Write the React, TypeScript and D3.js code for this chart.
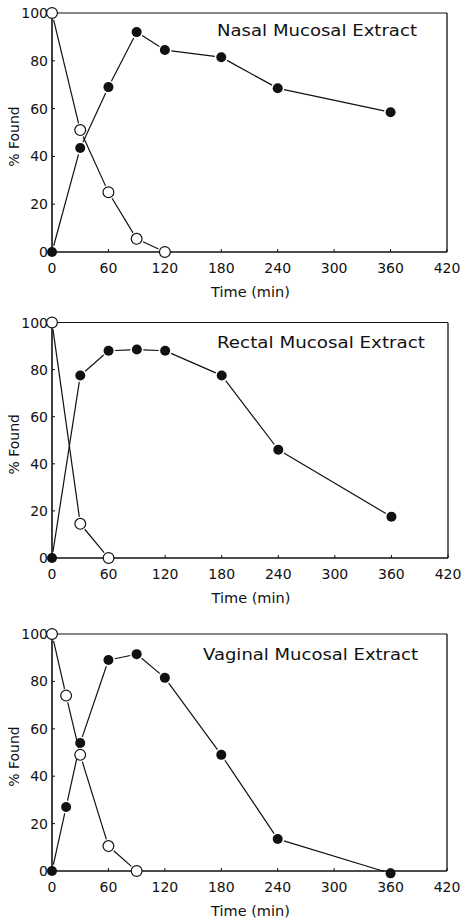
import React from "react";
import * as d3 from "d3";

// x ticks / y ticks shared by all three panels
const xTicks = [0, 60, 120, 180, 240, 300, 360, 420];
const yTicks = [0, 20, 40, 60, 80, 100];

const panelTitles = [
  "Nasal Mucosal Extract",
  "Rectal Mucosal Extract",
  "Vaginal Mucosal Extract",
];

// Nasal
const nasalFilledT = [0, 30, 60, 90, 120, 180, 240, 360];
const nasalFilledV = [0, 43.5, 69, 92, 84.5, 81.5, 68.5, 58.5];
const nasalOpenT = [0, 30, 60, 90, 120];
const nasalOpenV = [100, 51, 25, 5.5, 0];

// Rectal
const rectalFilledT = [0, 30, 60, 90, 120, 180, 240, 360];
const rectalFilledV = [0, 77.5, 88, 88.5, 88, 77.5, 46, 17.5];
const rectalOpenT = [0, 30, 60];
const rectalOpenV = [100, 14.5, 0];

// Vaginal
const vaginalFilledT = [0, 15, 30, 60, 90, 120, 180, 240, 360];
const vaginalFilledV = [0, 27, 54, 89, 91.5, 81.5, 49, 13.5, -1];
const vaginalOpenT = [0, 15, 30, 60, 90];
const vaginalOpenV = [100, 74, 49, 10.5, 0];

type Pt = [number, number];
const zip = (t: number[], v: number[]): Pt[] => t.map((d, i) => [d, v[i]]);

const panels = [
  { title: panelTitles[0], filled: zip(nasalFilledT, nasalFilledV), open: zip(nasalOpenT, nasalOpenV),
    box: { l: 52, r: 447, t: 13, b: 252 }, titleX: 217, titleW: 200, titleDy: 23 },
  { title: panelTitles[1], filled: zip(rectalFilledT, rectalFilledV), open: zip(rectalOpenT, rectalOpenV),
    box: { l: 52, r: 448, t: 322.5, b: 558 }, titleX: 217, titleW: 208, titleDy: 25 },
  { title: panelTitles[2], filled: zip(vaginalFilledT, vaginalFilledV), open: zip(vaginalOpenT, vaginalOpenV),
    box: { l: 52, r: 447, t: 634, b: 871 }, titleX: 203, titleW: 215, titleDy: 26 },
];

const FONT = "'DejaVu Sans', sans-serif";

function Segments({ pts, x, y, gap }: { pts: Pt[]; x: d3.ScaleLinear<number, number>; y: d3.ScaleLinear<number, number>; gap: number }) {
  const segs = [];
  for (let i = 0; i < pts.length - 1; i++) {
    const x1 = x(pts[i][0]), y1 = y(pts[i][1]);
    const x2 = x(pts[i + 1][0]), y2 = y(pts[i + 1][1]);
    const len = Math.hypot(x2 - x1, y2 - y1);
    if (len <= gap * 2) continue;
    const ux = (x2 - x1) / len, uy = (y2 - y1) / len;
    segs.push(
      <line key={i} x1={x1 + ux * gap} y1={y1 + uy * gap} x2={x2 - ux * gap} y2={y2 - uy * gap}
        stroke="#111" strokeWidth={1.2} />
    );
  }
  return <g>{segs}</g>;
}

function Panel({ p }: { p: typeof panels[number] }) {
  const { box } = p;
  const x = d3.scaleLinear().domain([0, 420]).range([box.l, box.r]);
  const y = d3.scaleLinear().domain([0, 100]).range([box.b, box.t]);
  return (
    <g fontFamily={FONT} fill="#111">
      {/* frame */}
      <line x1={box.l} x2={box.l} y1={box.t} y2={box.b} stroke="#111" strokeWidth={1.6} />
      <line x1={box.l} x2={box.r} y1={box.b} y2={box.b} stroke="#111" strokeWidth={1.4} />
      <line x1={box.l} x2={box.r} y1={box.t} y2={box.t} stroke="#111" strokeWidth={1.2} />
      <line x1={box.r} x2={box.r} y1={box.t} y2={box.b} stroke="#111" strokeWidth={1.3} />
      {/* y ticks */}
      {yTicks.map((t) => (
        <g key={"y" + t}>
          <line x1={box.l} x2={box.l + 3} y1={y(t)} y2={y(t)} stroke="#111" strokeWidth={1} />
          <text x={box.l - 4} y={y(t)} dy="0.36em" textAnchor="end" fontSize={14}>{t}</text>
        </g>
      ))}
      {/* x ticks */}
      {xTicks.map((t) => (
        <g key={"x" + t}>
          <line x1={x(t)} x2={x(t)} y1={box.b} y2={box.b - 3} stroke="#111" strokeWidth={1} />
          <text x={x(t)} y={box.b + 21} textAnchor="middle" fontSize={14}>{t}</text>
        </g>
      ))}
      <text x={(box.l + box.r) / 2 + 1} y={box.b + 45} textAnchor="middle" fontSize={14.5}>Time (min)</text>
      <text transform={`translate(19,${(box.t + box.b) / 2 + 4}) rotate(-90)`} textAnchor="middle" fontSize={14}>% Found</text>
      <text x={p.titleX} y={box.t + p.titleDy} fontSize={15} textLength={p.titleW} lengthAdjust="spacingAndGlyphs">{p.title}</text>
      {/* lines */}
      <Segments pts={p.filled} x={x} y={y} gap={6.5} />
      <Segments pts={p.open} x={x} y={y} gap={7} />
      {/* markers */}
      {p.open.map((d, i) => (
        <circle key={"o" + i} cx={x(d[0])} cy={y(d[1])} r={5.4} fill="#fff" stroke="#111" strokeWidth={1.2} />
      ))}
      {p.filled.map((d, i) => (
        <circle key={"f" + i} cx={x(d[0])} cy={y(d[1])} r={5} fill="#111" />
      ))}
    </g>
  );
}

export default function App() {
  return (
    <div style={{ position: "absolute", left: 0, top: 0 }}>
      <svg width={463} height={923} style={{ display: "block", background: "#fff" }}>
        {panels.map((p, i) => (
          <Panel key={i} p={p} />
        ))}
      </svg>
    </div>
  );
}
